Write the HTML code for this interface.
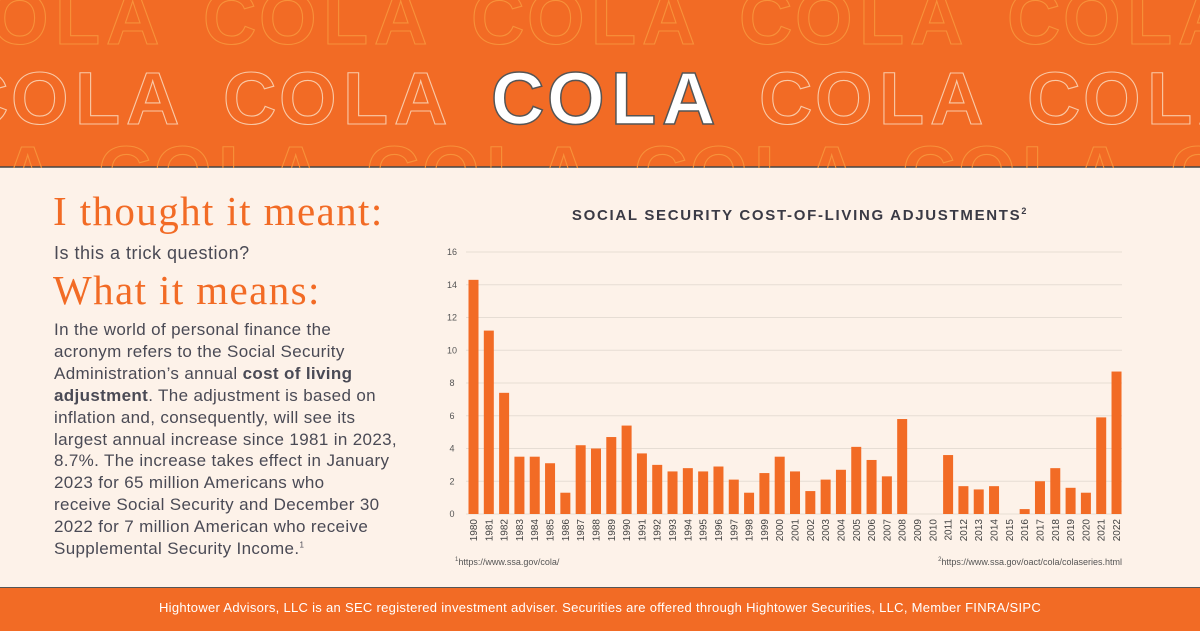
<!DOCTYPE html>
<html><head><meta charset="utf-8">
<style>
body{margin:0;width:1200px;height:630px;overflow:hidden;background:#fdf2e9;font-family:"Liberation Sans",sans-serif;position:relative}
.abs{position:absolute}
h2{margin:0;font-family:"Liberation Serif",serif;font-weight:normal;color:#f26b25;font-size:41px;letter-spacing:1.4px;position:absolute;left:53px;white-space:nowrap}
.sub{color:#4a4a55;font-size:18px;left:54px;letter-spacing:0.5px}
.para{color:#4a4a55;font-size:17px;letter-spacing:0.35px;line-height:21.9px;left:54px;top:319px;white-space:nowrap}
sup{line-height:0}
</style></head><body>
<svg class="abs" style="left:0;top:0" width="1200" height="168" id="hdr">
<rect width="1200" height="167" fill="#f26b25"/>
<line x1="0" y1="167" x2="1200" y2="167" stroke="#444" stroke-width="1.5"/>
<g id="hletters" font-family="Liberation Sans, sans-serif" font-weight="bold" font-size="74"></g>
</svg>
<h2 style="top:187px">I thought it meant:</h2>
<div class="abs sub" style="top:243px">Is this a trick question?</div>
<h2 style="top:266px">What it means:</h2>
<div class="abs para">In the world of personal finance the<br>acronym refers to the Social Security<br>Administration’s annual <b>cost of living<br>adjustment</b>. The adjustment is based on<br>inflation and, consequently, will see its<br>largest annual increase since 1981 in 2023,<br>8.7%. The increase takes effect in January<br>2023 for 65 million Americans who<br>receive Social Security and December 30<br>2022 for 7 million American who receive<br>Supplemental Security Income.<sup style="font-size:8px">1</sup></div>
<div class="abs" style="left:440px;width:720px;top:207px;text-align:center;font-weight:bold;font-size:15px;letter-spacing:1.7px;color:#3a3a45">SOCIAL SECURITY COST-OF-LIVING ADJUSTMENTS<sup style="font-size:9px">2</sup></div>
<svg class="abs" style="left:0;top:0" width="1200" height="630" id="chart"></svg>
<div class="abs" style="left:455px;top:557px;font-size:9px;color:#555"><sup style="font-size:6px">1</sup>https://www.ssa.gov/cola/</div>
<div class="abs" style="right:78px;top:557px;font-size:9px;color:#555"><sup style="font-size:6px">2</sup>https://www.ssa.gov/oact/cola/colaseries.html</div>
<div class="abs" style="left:0;top:587px;width:1200px;height:43px;background:#f26b25;border-top:1.5px solid #555;color:#fff;font-size:13px;text-align:center;line-height:40px;letter-spacing:0.3px">Hightower Advisors, LLC is an SEC registered investment adviser. Securities are offered through Hightower Securities, LLC, Member FINRA/SIPC</div>
<script>
const years=[];for(let y=1980;y<=2022;y++)years.push(String(y));
const colaValues=[14.3,11.2,7.4,3.5,3.5,3.1,1.3,4.2,4.0,4.7,5.4,3.7,3.0,2.6,2.8,2.6,2.9,2.1,1.3,2.5,3.5,2.6,1.4,2.1,2.7,4.1,3.3,2.3,5.8,0,0,3.6,1.7,1.5,1.7,0,0.3,2.0,2.8,1.6,1.3,5.9,8.7];
const yTicks=[0,2,4,6,8,10,12,14,16];
const NS='http://www.w3.org/2000/svg';
const hg=document.getElementById('hletters');
const offs=[0,56,120,171],L=['C','O','L','A'];
const rows=[{y:44,s:203,c:'#f7913a',w:1.1},{y:124,s:223,c:'#f9c9a6',w:1.1},{y:198,s:98,c:'#f7913a',w:1.1}];
rows.forEach((r,ri)=>{for(let k=-2;k<6;k++){L.forEach((ch,i)=>{const x=r.s+k*268+offs[i];if(x<-60||x>1220)return;
const t=document.createElementNS(NS,'text');t.setAttribute('x',x);t.setAttribute('y',r.y);t.textContent=ch;
const main=(ri===1&&k===1);
t.setAttribute('fill',main?'#fff':'none');t.setAttribute('stroke',main?'#555':r.c);t.setAttribute('stroke-width',main?1.5:r.w);


hg.appendChild(t);});}});
const svg=document.getElementById('chart');
const y0=514,y1=252,x0=473.5,step=15.31,bw=10;
const yS=v=>y0-(v/16)*(y0-y1);
const xS=i=>x0+i*step;
yTicks.forEach(v=>{
const l=document.createElementNS(NS,'line');l.setAttribute('x1',466);l.setAttribute('x2',1122);l.setAttribute('y1',yS(v));l.setAttribute('y2',yS(v));l.setAttribute('stroke','#e6ddd4');l.setAttribute('stroke-width',1);


svg.appendChild(l);
const t=document.createElementNS(NS,'text');t.setAttribute('x',452);t.setAttribute('y',yS(v)+3);t.setAttribute('text-anchor','middle');t.setAttribute('font-size',9);t.setAttribute('fill','#555');t.textContent=v;


svg.appendChild(t);});
colaValues.forEach((v,i)=>{
const r=document.createElementNS(NS,'rect');r.setAttribute('x',xS(i)-bw/2);r.setAttribute('width',bw);r.setAttribute('y',yS(v));r.setAttribute('height',y0-yS(v));r.setAttribute('fill','#f26b25');


svg.appendChild(r);
const t=document.createElementNS(NS,'text');t.setAttribute('transform','translate('+(xS(i)+3.5)+',519) rotate(-90)');t.setAttribute('text-anchor','end');t.setAttribute('font-size',10);t.setAttribute('fill','#444');t.textContent=years[i];


svg.appendChild(t);});
</script>
</body></html>
